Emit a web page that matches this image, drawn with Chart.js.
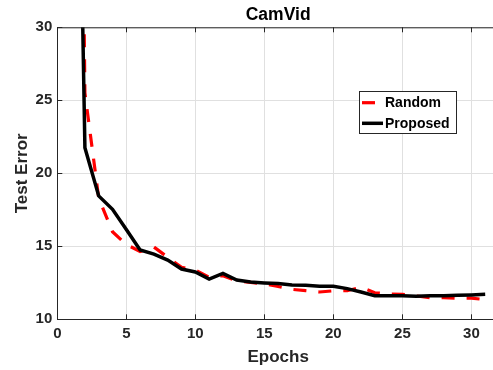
<!DOCTYPE html>
<html>
<head>
<meta charset="utf-8">
<script src="https://cdn.jsdelivr.net/npm/chart.js@4.4.1/dist/chart.umd.min.js"></script>
<style>
  html, body { margin: 0; padding: 0; overflow: hidden; background: #fff; }
  #wrap { width: 510px; height: 370px; }
</style>
</head>
<body>
<div id="wrap"><canvas id="c" width="510" height="370"></canvas></div>
<script>
const chartTitle = "CamVid";
const xTitle = "Epochs";
const yTitle = "Test Error";
const seriesNames = ["Random", "Proposed"];
const epochs = [1, 2, 3, 4, 5, 6, 7, 8, 9, 10, 11, 12, 13, 14, 15, 16, 17, 18, 19, 20, 21, 22, 23, 24, 25, 26, 27, 28, 29, 30, 31];
const randomErr = [110, 25.5, 18.3, 16.0, 15.12, 14.65, 14.95, 14.25, 13.56, 13.38, 12.87, 12.99, 12.62, 12.53, 12.42, 12.25, 12.05, 11.96, 11.87, 11.95, 11.96, 12.19, 11.82, 11.73, 11.71, 11.6, 11.48, 11.48, 11.45, 11.45, 11.35];
const proposedErr = [75, 21.75, 18.45, 17.53, 16.15, 14.75, 14.47, 14.06, 13.44, 13.24, 12.76, 13.15, 12.69, 12.55, 12.49, 12.45, 12.35, 12.33, 12.26, 12.26, 12.1, 11.87, 11.62, 11.62, 11.62, 11.58, 11.62, 11.62, 11.65, 11.67, 11.71];
const xTicks = [0, 5, 10, 15, 20, 25, 30];
const yTicks = [10, 15, 20, 25, 30];

const AX = '#262626';
const GRID = '#e0e0e0';
const FONT = "'Liberation Sans', Arial, sans-serif";

const toPts = (arr) => epochs.map((e, i) => ({x: e, y: arr[i]}));

const decor = {
  id: 'decor',
  afterDraw(chart) {
    const ctx = chart.ctx;
    const a = chart.chartArea;
    const xs = chart.scales.x, ys = chart.scales.y;
    ctx.save();
    // top box line
    ctx.strokeStyle = AX;
    ctx.lineWidth = 1;
    ctx.beginPath();
    ctx.moveTo(a.left, a.top + 0.5);
    ctx.lineTo(a.right, a.top + 0.5);
    ctx.stroke();
    // inward ticks
    const tl = 5;
    ctx.beginPath();
    xTicks.forEach(v => {
      const px = Math.round(xs.getPixelForValue(v)) + 0.5;
      ctx.moveTo(px, a.bottom); ctx.lineTo(px, a.bottom - tl);
      ctx.moveTo(px, a.top); ctx.lineTo(px, a.top + tl);
    });
    yTicks.forEach(v => {
      const py = Math.round(ys.getPixelForValue(v)) + 0.5;
      ctx.moveTo(a.left, py); ctx.lineTo(a.left + tl, py);
    });
    ctx.stroke();
    // title centered on plot area
    ctx.fillStyle = '#000';
    ctx.font = "bold 17.5px " + FONT;
    ctx.textAlign = 'center';
    ctx.textBaseline = 'middle';
    ctx.fillText(chartTitle, (a.left + a.right) / 2, 15);
    // legend
    const lx = 359.5, ly = 91.5, lw = 97, lh = 42;
    ctx.fillStyle = '#fff';
    ctx.fillRect(lx, ly, lw, lh);
    ctx.strokeStyle = AX;
    ctx.lineWidth = 1;
    ctx.strokeRect(lx, ly, lw, lh);
    const ds = chart.data.datasets;
    const rows = [{d: ds[1], y: 102.7}, {d: ds[0], y: 123.3}];
    rows.forEach(r => {
      ctx.save();
      ctx.strokeStyle = r.d.borderColor;
      ctx.lineWidth = r.d.borderWidth;
      ctx.setLineDash(r.d.borderDash || []);
      ctx.beginPath();
      ctx.moveTo(362, r.y);
      ctx.lineTo(383, r.y);
      ctx.stroke();
      ctx.restore();
      ctx.fillStyle = '#000';
      ctx.font = "bold 14px " + FONT;
      ctx.textAlign = 'left';
      ctx.textBaseline = 'middle';
      ctx.fillText(r.d.label, 385, r.y + 0.5);
    });
    ctx.restore();
  }
};

new Chart(document.getElementById('c'), {
  type: 'line',
  data: {
    datasets: [
      {
        label: seriesNames[1],
        data: toPts(proposedErr),
        borderColor: '#000000',
        borderWidth: 3.5,
        pointRadius: 0,
        tension: 0,
        clip: 0,
        order: 0
      },
      {
        label: seriesNames[0],
        data: toPts(randomErr),
        borderColor: '#ff0000',
        borderWidth: 3.2,
        borderDash: [13, 12],
        pointRadius: 0,
        tension: 0,
        clip: 0,
        order: 1
      }
    ]
  },
  options: {
    responsive: false,
    animation: false,
    layout: { padding: { left: 0, right: 11, top: 27.3, bottom: 0 } },
    plugins: {
      legend: { display: false },
      title: { display: false },
      tooltip: { enabled: false }
    },
    scales: {
      x: {
        type: 'linear',
        min: 0, max: 32,
        afterFit(s) { s.height = 50.7; },
        afterBuildTicks(s) { s.ticks = xTicks.map(v => ({value: v})); },
        ticks: { includeBounds: false, padding: 6, color: AX, font: { family: FONT, size: 15, weight: 'bold' } },
        grid: { color: GRID, lineWidth: 1, drawTicks: false },
        border: { display: true, color: AX, width: 1 },
        title: { display: true, text: xTitle, color: AX, font: { family: FONT, size: 17, weight: 'bold' }, padding: { top: 0, bottom: 2.4 } }
      },
      y: {
        min: 10, max: 30,
        afterFit(s) { s.width = 57.3; },
        afterBuildTicks(s) { s.ticks = yTicks.map(v => ({value: v})); },
        ticks: { includeBounds: false, padding: 5, color: AX, font: { family: FONT, size: 15, weight: 'bold' } },
        grid: { color: GRID, lineWidth: 1, drawTicks: false },
        border: { display: true, color: AX, width: 1 },
        title: { display: true, text: yTitle, color: AX, font: { family: FONT, size: 17, weight: 'bold' }, padding: { top: 11.9, bottom: 0 } }
      }
    }
  },
  plugins: [decor]
});
</script>
</body>
</html>
